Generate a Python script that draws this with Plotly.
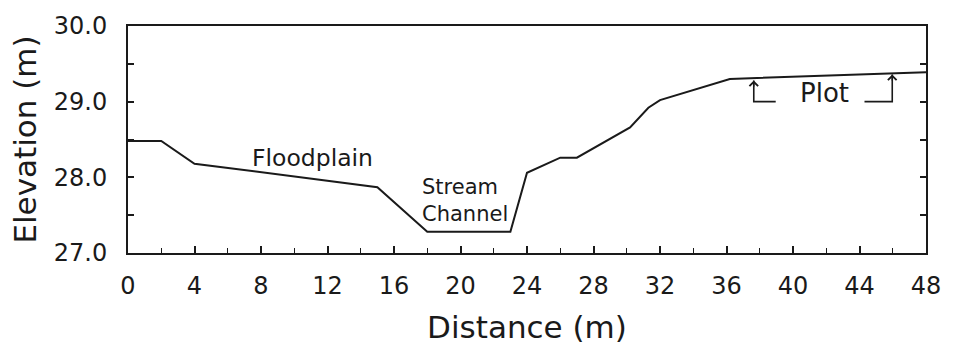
import plotly.graph_objects as go

# Ground profile (distance m, elevation m)
distance = [0, 2, 4, 15, 18, 23, 24, 26, 27, 30.2, 31.3, 32, 36.2, 48]
elevation = [28.48, 28.48, 28.18, 27.87, 27.28, 27.28, 28.06, 28.26, 28.26, 28.66, 28.92, 29.02, 29.30, 29.39]

x_ticks = [0, 4, 8, 12, 16, 20, 24, 28, 32, 36, 40, 44, 48]
y_ticks = [27.0, 28.0, 29.0, 30.0]
y_tick_text = ["27.0", "28.0", "29.0", "30.0"]

# "Plot" bracket (data coords)
left_bracket_x = [38.96, 37.64, 37.64]
left_bracket_y = [29.0, 29.0, 29.28]
right_bracket_x = [44.3, 45.97, 45.97]
right_bracket_y = [29.0, 29.0, 29.36]

# labels
label_text = ["Floodplain", "Stream<br>Channel", "Plot"]
label_x = [11.07, 17.55, 41.9]
label_y = [28.26, 27.70, 29.12]
label_anchor = ["center", "left", "center"]
label_size = [23.5, 21, 26]

INK = "#1a1a1a"
FONT = "DejaVu Sans"

fig = go.Figure()
fig.add_trace(go.Scatter(x=distance, y=elevation, mode="lines",
                         line=dict(color=INK, width=2), hoverinfo="skip"))
for bx, by in [(left_bracket_x, left_bracket_y), (right_bracket_x, right_bracket_y)]:
    fig.add_trace(go.Scatter(x=bx, y=by, mode="lines",
                             line=dict(color=INK, width=1.6), hoverinfo="skip"))
    # arrowhead at top of vertical part
    fig.add_annotation(x=bx[-1], y=by[-1], ax=bx[-1], ay=by[-1] - 0.1,
                       xref="x", yref="y", axref="x", ayref="y",
                       showarrow=True, arrowhead=4, arrowsize=1.2,
                       arrowwidth=1.4, arrowcolor=INK, text="")

for t, x, y, a, s in zip(label_text, label_x, label_y, label_anchor, label_size):
    fig.add_annotation(x=x, y=y, xref="x", yref="y", text=t, showarrow=False,
                       xanchor=a, align="left",
                       font=dict(family=FONT, size=s, color=INK))

fig.update_layout(
    width=953, height=351,
    margin=dict(l=128, r=18, t=23, b=97),
    paper_bgcolor="white", plot_bgcolor="white",
    showlegend=False,
    font=dict(family=FONT, color=INK),
)
fig.update_xaxes(
    range=[0, 48], tickvals=x_ticks, ticks="inside", ticklen=7, tickwidth=1.5,
    tickcolor=INK, showline=True, linecolor=INK, linewidth=2, mirror=True,
    showgrid=False, zeroline=False,
    minor=dict(dtick=2, tick0=0, ticks="inside", ticklen=5, tickwidth=1.3, tickcolor=INK, showgrid=False),
    tickfont=dict(family=FONT, size=24, color=INK), ticklabelstandoff=10,
    title=dict(text="Distance (m)", font=dict(family=FONT, size=31, color=INK), standoff=18),
)
fig.update_yaxes(
    range=[27, 30], tickvals=y_ticks, ticktext=y_tick_text, ticks="inside", ticklen=6,
    tickwidth=1.5, tickcolor=INK, showline=True, linecolor=INK, linewidth=2,
    mirror="ticks", showgrid=False, zeroline=False,
    minor=dict(dtick=0.5, tick0=27, ticks="inside", ticklen=6, tickwidth=1.5, tickcolor=INK, showgrid=False),
    tickfont=dict(family=FONT, size=24, color=INK), ticklabelstandoff=14,
    title=dict(text="Elevation (m)", font=dict(family=FONT, size=31, color=INK), standoff=8),
)

fig.write_html("out.html")
